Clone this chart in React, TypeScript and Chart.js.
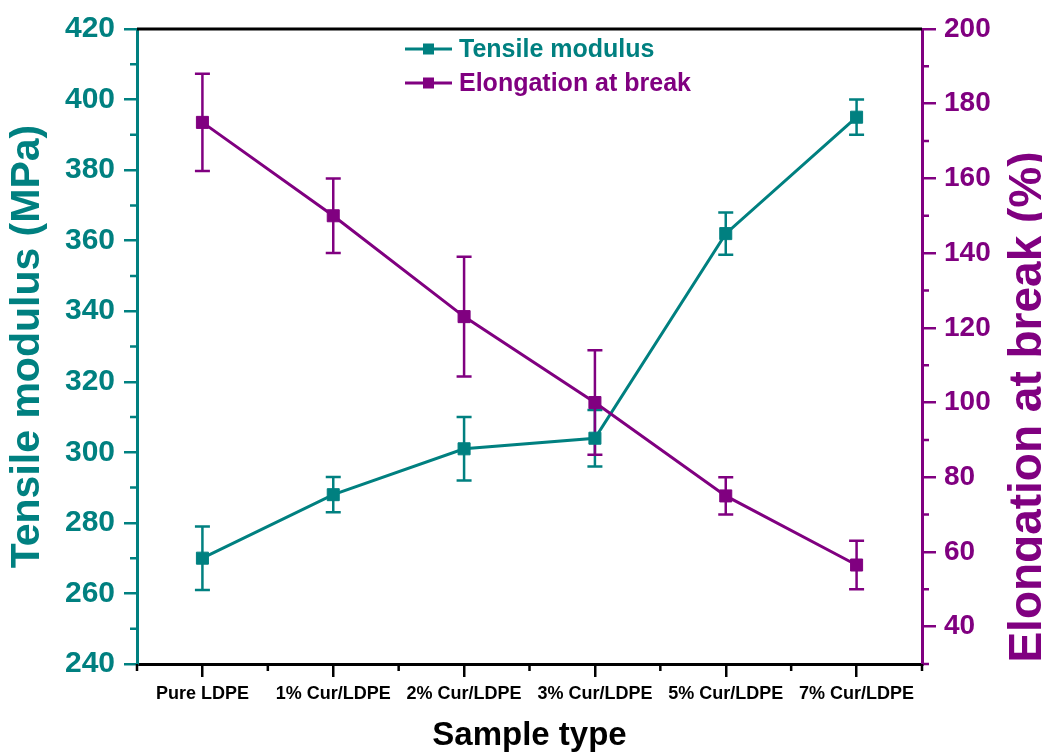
import React, { useEffect, useRef } from 'react';
import { Chart, registerables } from 'chart.js';

Chart.register(...registerables);

const categories = ['Pure LDPE', '1% Cur/LDPE', '2% Cur/LDPE', '3% Cur/LDPE', '5% Cur/LDPE', '7% Cur/LDPE'];
const tensileModulus = [270, 288, 301, 304, 362, 395];
const tensileError = [9, 5, 9, 8, 6, 5];
const elongation = [175, 150, 123, 100, 75, 56.5];
const elongationError = [13, 10, 16, 14, 5, 6.5];
const leftTicks = [240, 260, 280, 300, 320, 340, 360, 380, 400, 420];
const leftMinorTicks = [250, 270, 290, 310, 330, 350, 370, 390, 410];
const rightTicks = [40, 60, 80, 100, 120, 140, 160, 180, 200];
const rightMinorTicks = [30, 50, 70, 90, 110, 130, 150, 170, 190];

const TEAL = '#008080';
const PURPLE = '#800080';
const FONT = '"Liberation Sans", Arial, sans-serif';

const decorPlugin = {
  id: 'decor',
  beforeDatasetsDraw(chart: any) {
    const ctx = chart.ctx;
    const errs = [tensileError, elongationError];
    chart.data.datasets.forEach((ds: any, i: number) => {
      const meta = chart.getDatasetMeta(i);
      const ys = chart.scales[ds.yAxisID];
      ctx.save();
      ctx.strokeStyle = ds.borderColor;
      ctx.lineWidth = 2.5;
      meta.data.forEach((pt: any, j: number) => {
        const v = ds.data[j];
        const e = errs[i][j];
        const yT = ys.getPixelForValue(v + e);
        const yB = ys.getPixelForValue(v - e);
        const x = pt.x;
        ctx.beginPath();
        ctx.moveTo(x, yT);
        ctx.lineTo(x, yB);
        ctx.moveTo(x - 7.5, yT);
        ctx.lineTo(x + 7.5, yT);
        ctx.moveTo(x - 7.5, yB);
        ctx.lineTo(x + 7.5, yB);
        ctx.stroke();
      });
      ctx.restore();
    });
  },
  afterDraw(chart: any) {
    const ctx = chart.ctx;
    const { left, right, top, bottom } = chart.chartArea;
    const yL = chart.scales.y;
    const yR = chart.scales.y1;
    const xs = chart.scales.x;
    ctx.save();
    ctx.lineWidth = 2.5;
    // minor ticks
    ctx.strokeStyle = TEAL;
    ctx.beginPath();
    leftMinorTicks.forEach((v) => {
      const y = yL.getPixelForValue(v);
      ctx.moveTo(left - 7, y);
      ctx.lineTo(left, y);
    });
    ctx.stroke();
    ctx.strokeStyle = PURPLE;
    ctx.beginPath();
    rightMinorTicks.forEach((v) => {
      const y = yR.getPixelForValue(v);
      ctx.moveTo(right, y);
      ctx.lineTo(right + 7, y);
    });
    ctx.stroke();
    ctx.strokeStyle = '#000';
    ctx.beginPath();
    for (let i = 0; i <= categories.length; i++) {
      const x = xs.getPixelForValue(i - 0.5);
      ctx.moveTo(x, bottom);
      ctx.lineTo(x, bottom + 7);
    }
    ctx.stroke();
    // top frame
    ctx.lineWidth = 3;
    ctx.beginPath();
    ctx.moveTo(left, top);
    ctx.lineTo(right, top);
    ctx.stroke();
    // legend
    const rows = [49, 83];
    chart.data.datasets.forEach((ds: any, i: number) => {
      const y = rows[i];
      ctx.strokeStyle = ds.borderColor;
      ctx.fillStyle = ds.borderColor;
      ctx.lineWidth = 3;
      ctx.beginPath();
      ctx.moveTo(405, y);
      ctx.lineTo(452, y);
      ctx.stroke();
      ctx.fillRect(428.5 - 5.5, y - 5.5, 11, 11);
      ctx.font = `bold 25px ${FONT}`;
      ctx.textAlign = 'left';
      ctx.textBaseline = 'middle';
      ctx.fillText(ds.label, 459, y + 1);
    });
    // right axis title (reads bottom to top)
    ctx.translate(1041, 407);
    ctx.rotate(-Math.PI / 2);
    ctx.fillStyle = PURPLE;
    ctx.font = `bold 46px ${FONT}`;
    ctx.textAlign = 'center';
    ctx.textBaseline = 'alphabetic';
    ctx.fillText('Elongation at break (%)', 0, 0);
    ctx.restore();
  },
};

export default function App() {
  const ref = useRef<HTMLCanvasElement | null>(null);
  useEffect(() => {
    document.body.style.margin = '0';
    const canvas = ref.current;
    if (!canvas) return;
    const chart = new Chart(canvas, {
      type: 'line',
      data: {
        labels: categories,
        datasets: [
          {
            label: 'Tensile modulus',
            data: tensileModulus,
            yAxisID: 'y',
            borderColor: TEAL,
            backgroundColor: TEAL,
            borderWidth: 3,
            pointStyle: 'rect',
            pointRadius: 8.5,
            pointBackgroundColor: TEAL,
            pointBorderColor: TEAL,
            pointBorderWidth: 1,
            tension: 0,
            order: 1,
          },
          {
            label: 'Elongation at break',
            data: elongation,
            yAxisID: 'y1',
            borderColor: PURPLE,
            backgroundColor: PURPLE,
            borderWidth: 3,
            pointStyle: 'rect',
            pointRadius: 8.5,
            pointBackgroundColor: PURPLE,
            pointBorderColor: PURPLE,
            pointBorderWidth: 1,
            tension: 0,
            order: 0,
          },
        ],
      },
      options: {
        animation: false,
        responsive: false,
        devicePixelRatio: 1,
        events: [],
        layout: { padding: { top: 29, left: 0, right: 0, bottom: 0 } },
        plugins: { legend: { display: false }, tooltip: { enabled: false } },
        scales: {
          x: {
            type: 'category',
            offset: true,
            grid: { drawOnChartArea: false, color: '#000', lineWidth: 2.5, tickLength: 13, offset: false },
            border: { color: '#000', width: 3 },
            ticks: {
              color: '#000',
              font: { family: FONT, size: 18, weight: 'bold' },
              padding: 6,
              maxRotation: 0,
              autoSkip: false,
            },
            title: {
              display: true,
              text: 'Sample type',
              color: '#000',
              font: { family: FONT, size: 33, weight: 'bold', lineHeight: 1 },
              padding: { top: 0, bottom: 2 },
            },
            afterFit: (s: any) => { s.height = 90; },
          },
          y: {
            type: 'linear',
            position: 'left',
            min: 240,
            max: 420,
            grid: { drawOnChartArea: false, color: TEAL, lineWidth: 2.5, tickLength: 13 },
            border: { color: TEAL, width: 3 },
            ticks: {
              stepSize: 20,
              color: TEAL,
              padding: 9,
              font: { family: FONT, size: 30, weight: 'bold' },
            },
            afterBuildTicks: (s: any) => { s.ticks = leftTicks.map((v) => ({ value: v })); },
            title: {
              display: true,
              text: 'Tensile modulus (MPa)',
              color: TEAL,
              font: { family: FONT, size: 41, weight: 'bold', lineHeight: 1 },
              padding: { top: 7, bottom: 0 },
            },
            afterFit: (s: any) => { s.width = 137; },
          },
          y1: {
            type: 'linear',
            position: 'right',
            min: 30,
            max: 200,
            grid: { drawOnChartArea: false, color: PURPLE, lineWidth: 2.5, tickLength: 14 },
            border: { color: PURPLE, width: 3 },
            ticks: {
              stepSize: 20,
              color: PURPLE,
              padding: 8,
              font: { family: FONT, size: 28, weight: 'bold' },
            },
            afterBuildTicks: (s: any) => { s.ticks = rightTicks.map((v) => ({ value: v })); },
            afterFit: (s: any) => { s.width = 120; },
          },
        },
      },
      plugins: [decorPlugin],
    } as any);
    return () => chart.destroy();
  }, []);
  return (
    <div style={{ width: 1042, height: 754, background: '#fff' }}>
      <canvas ref={ref} width={1042} height={754} style={{ display: 'block' }} />
    </div>
  );
}
